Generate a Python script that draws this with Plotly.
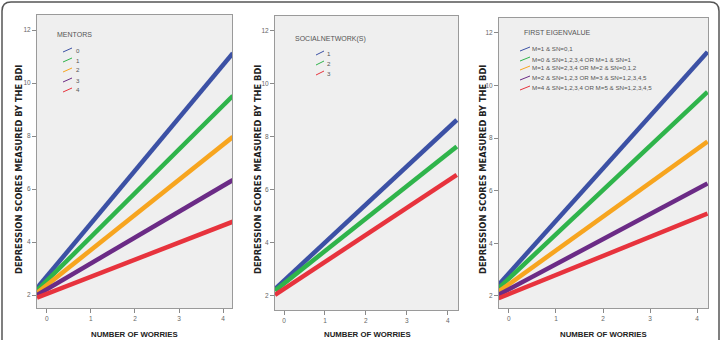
import plotly.graph_objects as go

W, H = 721, 340

# ---- data ----
worries_ends = [-0.22, 4.22]  # fitted lines drawn across the worry range

mentors_labels = ["0", "1", "2", "3", "4"]
mentors_start = [2.26, 2.17, 2.08, 2.00, 1.90]
mentors_end = [11.13, 9.52, 7.97, 6.34, 4.77]

social_labels = ["1", "2", "3"]
social_start = [2.26, 2.20, 2.04]
social_end = [8.63, 7.63, 6.56]

eigen_labels = [
    "M=1 & SN=0,1",
    "M=0 & SN=1,2,3,4 OR M=1 & SN=1",
    "M=1 & SN=2,3,4 OR M=2 & SN=0,1,2",
    "M=2 & SN=1,2,3 OR M=3 & SN=1,2,3,4,5",
    "M=4 & SN=1,2,3,4 OR M=5 & SN=1,2,3,4,5",
]
eigen_start = [2.42, 2.29, 2.16, 2.04, 1.91]
eigen_end = [11.28, 9.76, 7.87, 6.28, 5.13]

y_ticks = [2, 4, 6, 8, 10, 12]
x_ticks = [0, 1, 2, 3, 4]

BLUE, GREEN, ORANGE, PURPLE, RED = "#3c51a5", "#2fb44b", "#f7a51f", "#6b2b86", "#e7333d"
c5 = [BLUE, GREEN, ORANGE, PURPLE, RED]
c3 = [BLUE, GREEN, RED]

SANS = "Liberation Sans, Arial, sans-serif"

def px(x):
    return x / W

def py(y):
    return 1 - y / H

# panel boxes in pixels: (left, right, top, bottom)
boxes = [(37, 232, 15, 308), (275, 458, 16, 310), (499, 708, 18, 308)]
xranges = [[-0.22, 4.2], [-0.22, 4.25], [-0.21, 4.23]]
yranges = [[1.51, 12.57], [1.47, 12.55], [1.54, 12.57]]

fig = go.Figure()

panels = [
    ("MENTORS", mentors_labels, mentors_start, mentors_end, c5),
    ("SOCIALNETWORK(S)", social_labels, social_start, social_end, c3),
    ("FIRST EIGENVALUE", eigen_labels, eigen_start, eigen_end, c5),
]

for i, (title, labels, st, en, cols) in enumerate(panels):
    sfx = "" if i == 0 else str(i + 1)
    for lab, s, e, c in zip(labels, st, en, cols):
        fig.add_trace(go.Scatter(
            x=worries_ends, y=[s, e], mode="lines", name=lab,
            line=dict(color=c, width=4.5), showlegend=False,
            xaxis="x" + sfx, yaxis="y" + sfx, hoverinfo="skip"))
    l, r, t, b = boxes[i]
    axis_common = dict(showgrid=False, zeroline=False, showline=True, mirror=True,
                       linecolor="#9a9a9a", linewidth=1, ticks="outside", ticklen=4,
                       tickcolor="#8a8a8a", tickfont=dict(family=SANS, size=6.5, color="#666"))
    fig.update_layout(**{
        "xaxis" + sfx: dict(domain=[px(l), px(r)], range=xranges[i], tickvals=x_ticks,
                            anchor="y" + sfx, **axis_common),
        "yaxis" + sfx: dict(domain=[py(b), py(t)], range=yranges[i], tickvals=y_ticks,
                            anchor="x" + sfx, **axis_common),
    })

# custom legends (pixel layout)
legend_layout = [
    dict(title_xy=(55, 35), sym_x=(63, 72), text_x=74, ys=[50, 60, 70, 80, 90]),
    dict(title_xy=(293, 39), sym_x=(316, 324), text_x=325, ys=[53, 63, 73]),
    dict(title_xy=(522, 33), sym_x=(520, 530), text_x=530, ys=[49, 59, 68, 78, 88]),
]

annotations = []
shapes = []
for (title, labels, st, en, cols), lg in zip(panels, legend_layout):
    tx, ty = lg["title_xy"]
    annotations.append(dict(x=px(tx), y=py(ty), xref="paper", yref="paper", text=title,
                            showarrow=False, xanchor="left", yanchor="middle",
                            font=dict(family=SANS, size=7, color="#555")))
    for lab, c, yy in zip(labels, cols, lg["ys"]):
        x0, x1 = lg["sym_x"]
        shapes.append(dict(type="line", xref="paper", yref="paper",
                           x0=px(x0), y0=py(yy + 2), x1=px(x1), y1=py(yy - 2),
                           line=dict(color=c, width=1)))
        annotations.append(dict(x=px(lg["text_x"]), y=py(yy), xref="paper", yref="paper",
                                text=lab, showarrow=False, xanchor="left", yanchor="middle",
                                font=dict(family=SANS, size=6.2, color="#555")))

# axis titles
for xt_center, yt_x in [(134, 19), (367, 258), (603, 483)]:
    annotations.append(dict(x=px(xt_center), y=py(334), xref="paper", yref="paper",
                            text="<b>NUMBER OF WORRIES</b>", showarrow=False,
                            xanchor="center", yanchor="middle",
                            font=dict(family=SANS, size=7.8, color="#222")))
    annotations.append(dict(x=px(yt_x), y=py(170), xref="paper", yref="paper",
                            text="<b>DEPRESSION SCORES MEASURED BY THE BDI</b>", showarrow=False,
                            textangle=-90, xanchor="center", yanchor="middle",
                            font=dict(family="DejaVu Sans, sans-serif", size=8.3, color="#222")))

# outer rounded frame
x0, x1, y0, r = 2, 719, 2, 9
path = (f"M {px(x0)},{py(345)} L {px(x0)},{py(y0 + r)} "
        f"Q {px(x0)},{py(y0)} {px(x0 + r)},{py(y0)} "
        f"L {px(x1 - r)},{py(y0)} Q {px(x1)},{py(y0)} {px(x1)},{py(y0 + r)} "
        f"L {px(x1)},{py(345)}")
shapes.append(dict(type="path", xref="paper", yref="paper", path=path,
                   line=dict(color="#555", width=1.5)))

fig.update_layout(
    width=W, height=H, margin=dict(l=0, r=0, t=0, b=0),
    paper_bgcolor="white", plot_bgcolor="#efefef",
    showlegend=False, annotations=annotations, shapes=shapes,
)

fig.write_html("out.html")
